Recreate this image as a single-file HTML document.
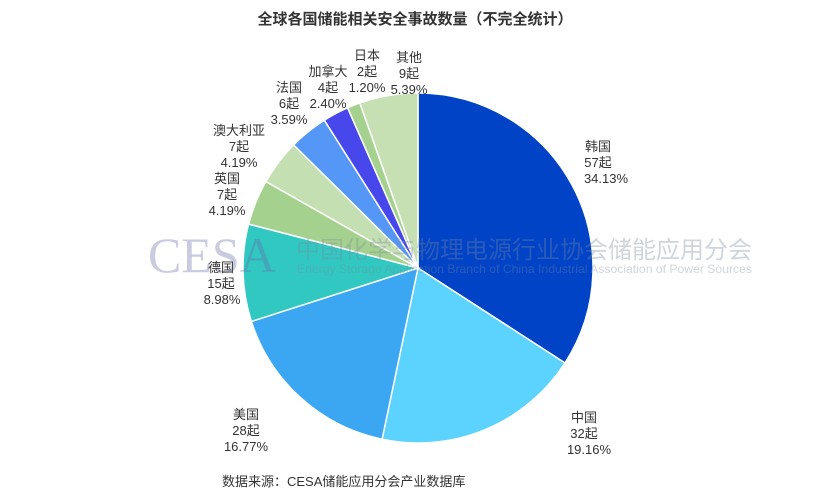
<!DOCTYPE html>
<html><head><meta charset="utf-8"><style>
body{margin:0;background:#fff;width:830px;height:496px;overflow:hidden;font-family:"Liberation Sans","Noto Sans CJK SC",sans-serif}
</style></head><body>
<svg id="s" width="830" height="496" xmlns="http://www.w3.org/2000/svg" font-family="Liberation Sans, Noto Sans CJK SC, sans-serif">
<text x="415" y="24" text-anchor="middle" font-size="15" font-weight="bold" fill="#333">全球各国储能相关安全事故数量（不完全统计）</text>
<g id="pie"></g>
<g opacity="0.35">
<text x="148" y="272" font-family="Liberation Serif, serif" font-size="50" fill="#6a6aa8">CESA</text>
<text x="296" y="258" font-size="24" textLength="456" lengthAdjust="spacingAndGlyphs" fill="#7a8aa0">中国化学与物理电源行业协会储能应用分会</text>
<text x="297" y="273" font-size="12" textLength="455" lengthAdjust="spacingAndGlyphs" fill="#7a8aa0">Energy Storage Application Branch of China Industrial Association of Power Sources</text>
</g>
<g font-size="13" fill="#333" text-anchor="middle">
<text x="598" y="151">韩国</text><text x="598" y="167">57起</text><text x="606" y="183">34.13%</text>
<text x="584" y="422">中国</text><text x="584" y="438">32起</text><text x="589" y="454">19.16%</text>
<text x="246" y="419">美国</text><text x="246" y="435">28起</text><text x="246" y="451">16.77%</text>
<text x="221" y="272">德国</text><text x="221" y="288">15起</text><text x="222" y="304">8.98%</text>
<text x="239" y="135">澳大利亚</text><text x="239" y="151">7起</text><text x="239" y="167">4.19%</text>
<text x="227" y="183">英国</text><text x="227" y="199">7起</text><text x="227" y="215">4.19%</text>
<text x="289" y="92">法国</text><text x="289" y="108">6起</text><text x="289" y="124">3.59%</text>
<text x="328" y="76">加拿大</text><text x="328" y="92">4起</text><text x="328" y="108">2.40%</text>
<text x="367" y="60">日本</text><text x="367" y="76">2起</text><text x="367" y="92">1.20%</text>
<text x="409" y="62">其他</text><text x="409" y="78">9起</text><text x="409" y="94">5.39%</text>
</g>
<text x="222" y="486" font-size="13" fill="#333">数据来源：CESA储能应用分会产业数据库</text>
</svg>
<script>
var d=[[34.13,"#0043C6"],[19.16,"#5CD3FF"],[16.77,"#3BA7F3"],[8.98,"#30C8C1"],[4.19,"#A5D18E"],[4.19,"#C4E0B2"],[3.59,"#5597F6"],[2.40,"#4747EC"],[1.20,"#A5D18E"],[5.39,"#C6E0B4"]];
var tot=0;d.forEach(function(e){tot+=e[0];});
var cx=418,cy=268,r=175,a=0,g=document.getElementById("pie"),h="";
d.forEach(function(e){var a2=a+e[0]/tot*2*Math.PI;
var x1=cx+r*Math.sin(a),y1=cy-r*Math.cos(a),x2=cx+r*Math.sin(a2),y2=cy-r*Math.cos(a2);
h+='<path d="M'+cx+','+cy+'L'+x1+','+y1+'A'+r+','+r+' 0 '+(a2-a>Math.PI?1:0)+' 1 '+x2+','+y2+'Z" fill="'+e[1]+'" stroke="#fff" stroke-width="1.5"/>';a=a2;});
g.innerHTML=h;
</script>
</body></html>
